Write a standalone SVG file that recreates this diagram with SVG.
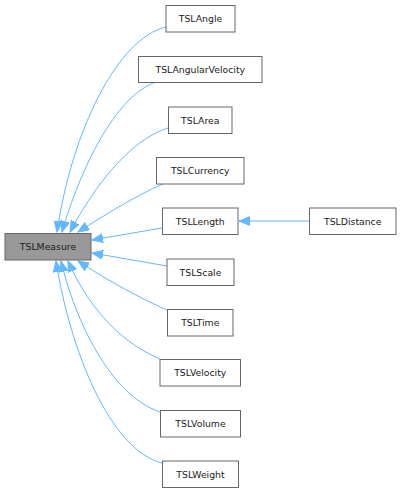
<svg xmlns="http://www.w3.org/2000/svg" width="402" height="493" viewBox="0 0 402 493">
<defs>
<style>
.n rect{fill:#ffffff;stroke:#666666;stroke-width:1}
.n.hl rect{fill:#999999}
.n text{font-family:"DejaVu Sans",sans-serif;font-size:9.3px;fill:#1a1a1a;text-anchor:middle}
.e path{fill:none;stroke:#63b8ff;stroke-width:1}
</style>
<marker id="ah" markerUnits="userSpaceOnUse" markerWidth="12" markerHeight="10" refX="11" refY="4.5" orient="auto">
<path d="M0,0 L11,4.5 L0,9 z" fill="#63b8ff" stroke="#63b8ff"/>
</marker>
</defs>
<rect width="402" height="493" fill="#ffffff"/>
<g id="edges" class="e">
<path d="M166,27 C118,38 72,130 57,232" marker-end="url(#ah)"/>
<path d="M156,82 C115,96 80,170 62,232" marker-end="url(#ah)"/>
<path d="M168,128 C130,140 95,185 70,232" marker-end="url(#ah)"/>
<path d="M163,184 C135,196 105,215 78,232" marker-end="url(#ah)"/>
<path d="M162,228 L92,240" marker-end="url(#ah)"/>
<path d="M167,266 L92,253" marker-end="url(#ah)"/>
<path d="M167,310 C140,298 110,282 78,261" marker-end="url(#ah)"/>
<path d="M160,359 C115,340 85,300 68,261" marker-end="url(#ah)"/>
<path d="M160,412 C110,395 75,320 61,261" marker-end="url(#ah)"/>
<path d="M162,463 C110,450 70,350 56,261" marker-end="url(#ah)"/>
<path d="M309,221 L239,221" marker-end="url(#ah)"/>
</g>
<g id="TSLMeasure" class="n hl"><rect x="5" y="233.5" width="86" height="26.5"/><text x="48" y="250.3">TSLMeasure</text></g>
<g id="TSLAngle" class="n"><rect x="166" y="5.5" width="69" height="26.5"/><text x="200.5" y="22.3">TSLAngle</text></g>
<g id="TSLAngularVelocity" class="n"><rect x="138.5" y="56.5" width="123.5" height="26"/><text x="200.25" y="73.3">TSLAngularVelocity</text></g>
<g id="TSLArea" class="n"><rect x="168.5" y="107" width="63.5" height="26.5"/><text x="200.25" y="123.8">TSLArea</text></g>
<g id="TSLCurrency" class="n"><rect x="156.5" y="157.5" width="87.5" height="26.5"/><text x="200.25" y="174.3">TSLCurrency</text></g>
<g id="TSLLength" class="n"><rect x="162.5" y="208" width="75.5" height="26.5"/><text x="200.25" y="224.8">TSLLength</text></g>
<g id="TSLDistance" class="n"><rect x="309.5" y="208" width="86.5" height="26.5"/><text x="352.75" y="224.8">TSLDistance</text></g>
<g id="TSLScale" class="n"><rect x="167" y="259" width="67" height="26.5"/><text x="200.5" y="275.8">TSLScale</text></g>
<g id="TSLTime" class="n"><rect x="167.5" y="309.5" width="65.5" height="26.5"/><text x="200.25" y="326.3">TSLTime</text></g>
<g id="TSLVelocity" class="n"><rect x="160" y="359.5" width="80.5" height="26.5"/><text x="200.25" y="376.3">TSLVelocity</text></g>
<g id="TSLVolume" class="n"><rect x="160.5" y="410.5" width="80" height="26.5"/><text x="200.5" y="427.3">TSLVolume</text></g>
<g id="TSLWeight" class="n"><rect x="162.5" y="461" width="76" height="26.5"/><text x="200.5" y="477.8">TSLWeight</text></g>
</svg>
